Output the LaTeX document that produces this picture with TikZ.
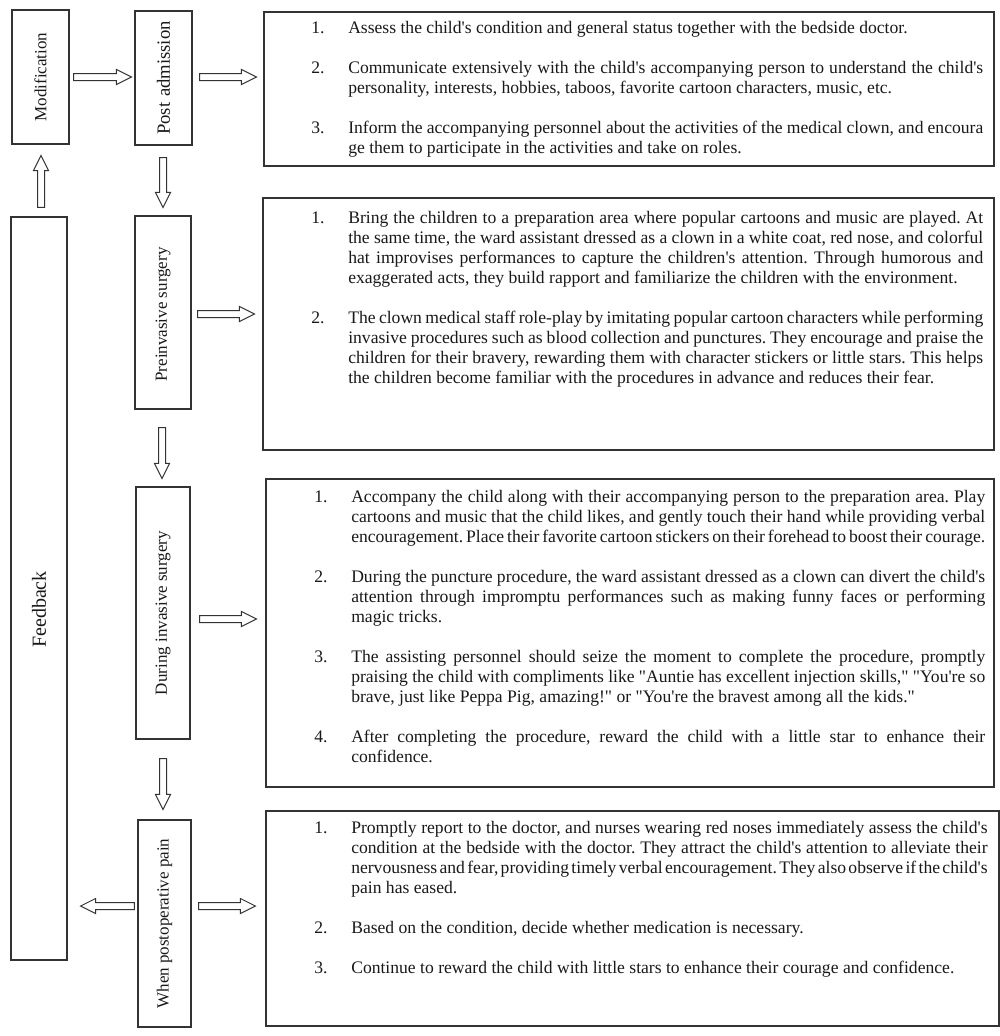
\documentclass[tikz,border=0pt]{standalone}
\usepackage{fontspec}
\setmainfont{Liberation Serif}[Ligatures=TeXOff]
\usetikzlibrary{calc,fit}
\tikzset{
  box/.style={draw=black!80, line width=0.9pt, inner sep=0pt},
  lbl/.style={rotate=90, font=\fontsize{12.75pt}{15pt}\selectfont, inner sep=0pt, text=black!90},
  body/.style={anchor=base west, inner sep=0pt, align=justify, text=black!90,
    font=\fontsize{13.2pt}{15pt}\selectfont},
  blockarrow/.style={draw=black!80, line width=0.75pt, fill=white, line join=miter},
}
\newcommand\cItem[2]{\hangindent=27.75pt\hangafter=1\noindent\makebox[27.75pt][l]{#1}#2\par}
\newcommand\cGap{\vskip 15pt}
\newcommand\cSet{\frenchspacing\fontdimen4\font=0.16em\tolerance=9999\hyphenpenalty=10000\exhyphenpenalty=10000\emergencystretch=0pt}
\newcommand\barrow[2]{%
  \coordinate (bP) at ($(#2)!11.25pt!(#1)$);
  \draw[blockarrow] ($(#1)!2.625pt!90:(#2)$) -- ($(bP)!2.625pt!90:(#2)$)
    -- ($(bP)!5.625pt!90:(#2)$) -- (#2) -- ($(bP)!5.625pt!-90:(#2)$)
    -- ($(bP)!2.625pt!-90:(#2)$) -- ($(#1)!2.625pt!-90:(#2)$) -- cycle;}
\begin{document}
\begin{tikzpicture}[x=0.75pt,y=-0.75pt]
\useasboundingbox[fill=white] (0,0) rectangle (1000,1036);
% stage boxes
\node[box, fit={(12,10) (69,144)}] (mod) {};
\node[box, fit={(135,11) (192,145)}] (post) {};
\node[box, fit={(11,217) (67,960)}] (fb) {};
\node[box, fit={(135,216) (191,409)}] (pre) {};
\node[box, fit={(136,487) (190,739)}] (dur) {};
\node[box, fit={(138,820) (191,1027)}] (pain) {};
% content boxes
\node[box, fit={(264,12) (994,166)}] (b1) {};
\node[box, fit={(263,198) (994,450)}] (b2) {};
\node[box, fit={(266,479) (994,787)}] (b3) {};
\node[box, fit={(266,811) (999,1026)}] (b4) {};
% labels
\node[lbl] (modt) at (mod.center) {Modification};
\node[lbl, font=\fontsize{14pt}{16pt}\selectfont] (postt) at (post.center) {Post\hspace{0.3em}admission};
\node[lbl, font=\fontsize{15pt}{18pt}\selectfont] (fbt) at ($(fb.center)+(0,21)$) {Feedback};
\node[lbl] (pret) at ($(pre.center)+(0,2)$) {Preinvasive surgery};
\node[lbl] (durt) at (dur.center) {During invasive surgery};
\node[lbl] (paint) at (pain.center) {When postoperative pain};
% texts
\node[body, text width=504pt] (t1) at (311,33.4) {\cSet
\cItem{1.}{Assess the child's condition and general status together with the bedside doctor.}\cGap
\cItem{2.}{Communicate extensively with the child's accompanying person to understand the child's\linebreak personality, interests, hobbies, taboos, favorite cartoon characters, music, etc.}\cGap
\cItem{3.}{Inform the accompanying personnel about the activities of the medical clown, and encoura\linebreak ge them to participate in the activities and take on roles.}};
\node[body, text width=504pt] (t2) at (311,223.4) {\cSet
\cItem{1.}{Bring the children to a preparation area where popular cartoons and music are played. At\linebreak the same time, the ward assistant dressed as a clown in a white coat, red nose, and colorful\linebreak hat improvises performances to capture the children's attention. Through humorous and\linebreak exaggerated acts, they build rapport and familiarize the children with the environment.}\cGap
\cItem{2.}{The clown medical staff role-play by imitating popular cartoon characters while performing\linebreak invasive procedures such as blood collection and punctures. They encourage and praise the\linebreak children for their bravery, rewarding them with character stickers or little stars. This helps\linebreak the children become familiar with the procedures in advance and reduces their fear.}};
\node[body, text width=503.25pt] (t3) at (314,502.4) {\cSet
\cItem{1.}{Accompany the child along with their accompanying person to the preparation area. Play\linebreak cartoons and music that the child likes, and gently touch their hand while providing verbal\linebreak encouragement. Place their favorite cartoon stickers on their forehead to boost their courage.}\cGap
\cItem{2.}{During the puncture procedure, the ward assistant dressed as a clown can divert the child's\linebreak attention through impromptu performances such as making funny faces or performing\linebreak magic tricks.}\cGap
\cItem{3.}{The assisting personnel should seize the moment to complete the procedure, promptly\linebreak praising the child with compliments like "Auntie has excellent injection skills," "You're so\linebreak brave, just like Peppa Pig, amazing!" or "You're the bravest among all the kids."}\cGap
\cItem{4.}{After completing the procedure, reward the child with a little star to enhance their\linebreak confidence.}};
\node[body, text width=505pt] (t4) at (314,833.4) {\cSet
\cItem{1.}{Promptly report to the doctor, and nurses wearing red noses immediately assess the child's\linebreak condition at the bedside with the doctor. They attract the child's attention to alleviate their\linebreak nervousness and fear, providing timely verbal encouragement. They also observe if the child's\linebreak pain has eased.}\cGap
\cItem{2.}{Based on the condition, decide whether medication is necessary.}\cGap
\cItem{3.}{Continue to reward the child with little stars to enhance their courage and confidence.}};
% arrows
\coordinate (a1s) at ($(mod.east)+(4,0)$);
\coordinate (a1e) at ($(mod.east -| post.west)+(-3,0)$);
\barrow{a1s}{a1e}
\coordinate (a2s) at ($(post.east)+(7,-1)$);
\coordinate (a2e) at ($(post.east -| b1.west)+(-7,-1)$);
\barrow{a2s}{a2e}
\coordinate (a3s) at ($(fb.north)+(2,-9)$);
\coordinate (a3e) at ($(mod.south)+(0.5,11)$);
\barrow{a3s}{a3e}
\coordinate (a4s) at ($(post.south)+(-0.5,12)$);
\coordinate (a4e) at ($(post.south |- pre.north)+(-0.5,-8)$);
\barrow{a4s}{a4e}
\coordinate (a5s) at ($(pre.east)+(6,1.5)$);
\coordinate (a5e) at ($(pre.east -| b2.west)+(-8,1.5)$);
\barrow{a5s}{a5e}
\coordinate (a6s) at ($(pre.south)+(-1,18)$);
\coordinate (a6e) at ($(pre.south |- dur.north)+(-1,-8)$);
\barrow{a6s}{a6e}
\coordinate (a7s) at ($(dur.east)+(9,6)$);
\coordinate (a7e) at ($(dur.east -| b3.west)+(-9,6)$);
\barrow{a7s}{a7e}
\coordinate (a8s) at ($(dur.south)+(0,19)$);
\coordinate (a8e) at ($(dur.south |- pain.north)+(0,-10)$);
\barrow{a8s}{a8e}
\coordinate (a9s) at ($(pain.west)+(-3,-17.5)$);
\coordinate (a9e) at ($(pain.west -| fb.east)+(13,-17.5)$);
\barrow{a9s}{a9e}
\coordinate (a10s) at ($(pain.east)+(7,-17.5)$);
\coordinate (a10e) at ($(pain.east -| b4.west)+(-10,-17.5)$);
\barrow{a10s}{a10e}
\end{tikzpicture}
\end{document}
